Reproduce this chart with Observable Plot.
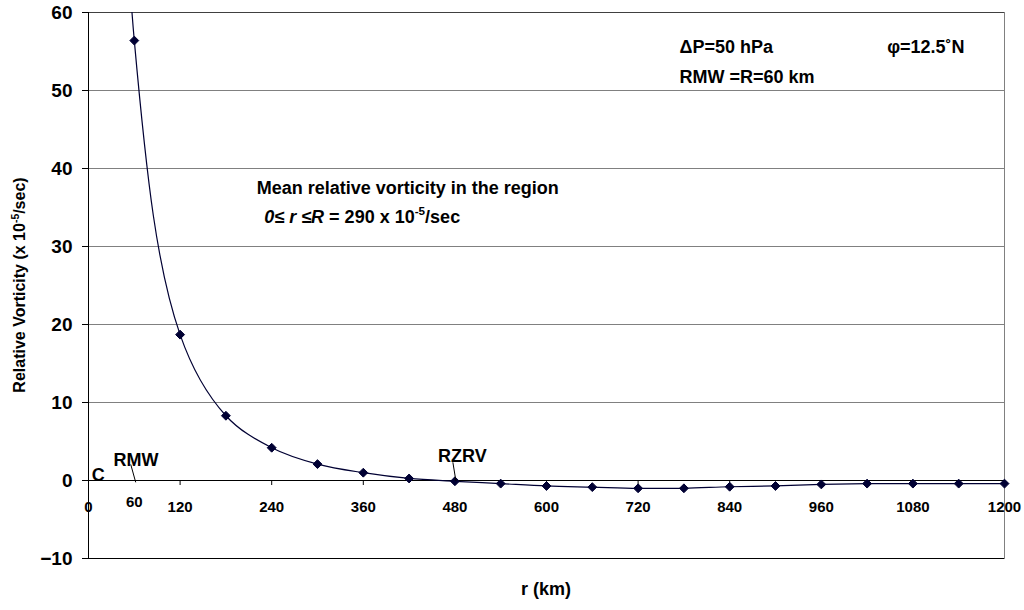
<!DOCTYPE html>
<html><head><meta charset="utf-8">
<script src="https://cdn.jsdelivr.net/npm/d3@7"></script>
<script src="https://cdn.jsdelivr.net/npm/@observablehq/plot@0.6"></script>
<style>body{margin:0;background:#fff;font-family:"Liberation Sans",Arial,sans-serif}</style>
</head><body><div id="chart"></div>
<script>
// Radius (km) and relative vorticity (x 10^-5 /sec) at each plotted point
const radius = [60,120,180,240,300,360,420,480,540,600,660,720,780,840,900,960,1020,1080,1140,1200];
const vorticity = [56.4,18.7,8.3,4.2,2.1,1.0,0.26,-0.1,-0.4,-0.7,-0.85,-1.0,-1.0,-0.8,-0.7,-0.5,-0.4,-0.4,-0.4,-0.4];
// Inner-core value (off the top of the chart) that the curve rises toward
const coreRadius = [0];
const coreVorticity = [290];
const xTicks = [0,120,240,360,480,600,720,840,960,1080,1200];
const yTicks = [-10,0,10,20,30,40,50,60];

const points = radius.map((r, i) => ({r, v: vorticity[i]}));
const curvePoints = coreRadius.map((r, i) => ({r, v: coreVorticity[i]})).concat(points);
const ink = "#000033";
const bold = "bold";

const chart = Plot.plot({
  width: 1024, height: 610,
  marginLeft: 88, marginRight: 20, marginTop: 12, marginBottom: 52,
  style: {fontFamily: "'Liberation Sans', Arial, sans-serif", background: "white", color: "#000"},
  x: {domain: [0, 1200], axis: null},
  y: {domain: [-10, 60], axis: null},
  marks: [
    Plot.gridY(yTicks.filter(d => d > 0), {stroke: "#808080", strokeOpacity: 1}),
    Plot.frame({stroke: "#808080"}),
    Plot.ruleY([60], {stroke: "#404040"}),
    Plot.ruleY([0], {stroke: "#000"}),
    Plot.ruleY([-10], {stroke: "#000"}),
    Plot.ruleX([0], {stroke: "#000"}),
    Plot.ruleX(xTicks.slice(1), {x: d => d, y1: 0, y2: 0, insetTop: 5, stroke: "#000"}),
    Plot.axisY(yTicks, {tickSize: 6, tickPadding: 10, fontSize: 19, fontWeight: bold, label: null, stroke: "#000"}),
    Plot.text(xTicks, {x: d => d, y: 0, dy: 27, text: d => String(d), fontSize: 15, fontWeight: bold}),
    Plot.text([60], {x: d => d, y: 0, dy: 22, text: d => String(d), fontSize: 15, fontWeight: bold}),
    Plot.line(curvePoints, {x: "r", y: "v", curve: "catmull-rom", stroke: ink, strokeWidth: 1.2, clip: true}),
    Plot.dot(points, {x: "r", y: "v", symbol: "diamond2", r: 4, fill: ink, stroke: ink, strokeWidth: 1})
  ]
});
document.getElementById("chart").append(chart);

const svg = d3.select(chart);
const X = chart.scale("x"), Y = chart.scale("y");
const fam = "'Liberation Sans', Arial, sans-serif";

function rich(x, y, parts, size, anchor = "start", transform = null) {
  const t = svg.append("text")
    .attr("font-family", fam).attr("font-size", size).attr("font-weight", "bold")
    .attr("fill", "#000").attr("text-anchor", anchor);
  if (transform) t.attr("transform", transform); else t.attr("x", x).attr("y", y);
  let shift = 0;
  for (const p of parts) {
    const s = t.append("tspan").text(p.text);
    if (p.italic) s.attr("font-style", "italic");
    if (p.sup) { s.attr("font-size", size * 0.65).attr("dy", -size * 0.4); shift = size * 0.4; }
    else if (shift) { s.attr("dy", shift); shift = 0; }
  }
  return t;
}

// Axis titles
rich(0, 0, [{text: "Relative Vorticity (x 10"}, {text: "-5", sup: true}, {text: "/sec)"}], 16, "middle",
  `translate(25,${(Y.apply(60) + Y.apply(-10)) / 2}) rotate(-90)`);
rich((X.apply(0) + X.apply(1200)) / 2, 595, [{text: "r (km)"}], 18, "middle");

// Annotations
rich(X.apply(775), Y.apply(54.8), [{text: "ΔP=50 hPa"}], 18);
rich(X.apply(1047), Y.apply(54.8), [{text: "φ=12.5˚N"}], 18);
rich(X.apply(775), Y.apply(50.9), [{text: "RMW =R=60 km"}], 18);
rich(X.apply(221), Y.apply(36.7), [{text: "Mean relative vorticity in the region"}], 18);
rich(X.apply(231), Y.apply(33), [{text: "0≤ r ≤R", italic: true}, {text: " = 290 x 10"}, {text: "-5", sup: true}, {text: "/sec"}], 18);
rich(X.apply(63), Y.apply(1.75), [{text: "RMW"}], 18, "middle");
rich(X.apply(5), Y.apply(-0.1), [{text: "C"}], 18);
rich(X.apply(458.5), Y.apply(2.27), [{text: "RZRV"}], 18);

// Leader lines
const leaders = [[56, 2.0, 62.5, -0.3], [478, 2.27, 482, -0.13]];
for (const [r1, v1, r2, v2] of leaders) {
  svg.append("line").attr("x1", X.apply(r1)).attr("y1", Y.apply(v1))
    .attr("x2", X.apply(r2)).attr("y2", Y.apply(v2)).attr("stroke", "#000").attr("stroke-width", 1);
}
</script>
</body></html>
